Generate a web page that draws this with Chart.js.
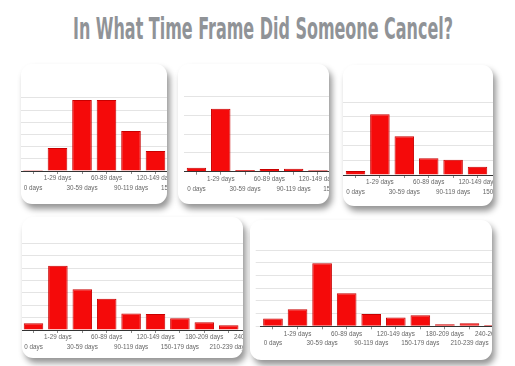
<!DOCTYPE html>
<html><head><meta charset="utf-8">
<script src="https://cdn.jsdelivr.net/npm/chart.js@4.4.1/dist/chart.umd.min.js"></script>
<style>
html,body{margin:0;padding:0;background:#fff;width:515px;height:366px;overflow:hidden;position:relative;}
#tt{position:absolute;top:14px;left:0;white-space:nowrap;font-family:"Liberation Sans Narrow","DejaVu Sans Condensed","Liberation Sans",sans-serif;font-weight:bold;font-size:30px;line-height:30px;color:#909397;transform-origin:0 0;}
.card{position:absolute;background:#fff;border-radius:11px;overflow:hidden;box-shadow:3px 5px 6px rgba(0,0,0,0.42);}
.card canvas{position:absolute;}
</style></head>
<body>
<span id="tt">In What Time Frame Did Someone Cancel?</span>
<script>
// ---- data ----
const categories = ["0 days","1-29 days","30-59 days","60-89 days","90-119 days","120-149 days","150-179 days","180-209 days","210-239 days","240-269 days"];
const panel1Values = [0.4, 9.4, 29.1, 29.1, 16.4, 8.2, null, null, null, null];
const panel2Values = [5.3, 83.8, 2.3, 3.6, 4.0, 2.0, null, null, null, null];
const panel3Values = [2.7, 41.6, 26.5, 11.4, 10.5, 5.7, null, null, null, null];
const panel4Values = [2.7, 25.9, 16.4, 12.6, 6.7, 6.5, 4.7, 3.1, 1.9, null];
const panel5Values = [6.1, 13.4, 49.6, 26.0, 9.7, 6.9, 8.7, 1.6, 2.4, 1.0];
const panelYMax  = [30, 100, 50, 35, 60];
const panelYStep = [5, 25, 10, 5, 10];

// ---- layout (page coordinates) ----
const layoutBoxes = [
  {l:21,  t:64,  w:146, h:140, plotLeft:20.75, catW:24.5,  base:171,   stepPx:12.2, yTick:0},
  {l:178, t:64,  w:151, h:140, plotLeft:184.3, catW:24.3,  base:171.7, stepPx:18.8, yTick:0},
  {l:343, t:65,  w:150, h:141, plotLeft:343.3, catW:24.4,  base:175,   stepPx:14.6, yTick:0},
  {l:22,  t:217, w:221, h:141, plotLeft:21.3,  catW:24.4,  base:330,   stepPx:12.4, yTick:0},
  {l:250, t:220, w:242, h:140, plotLeft:260.7, catW:24.56, base:326.3, stepPx:12.7, yTick:5}
];
const allValues = [panel1Values, panel2Values, panel3Values, panel4Values, panel5Values];

// title fit
const tt = document.getElementById('tt');
const tw = tt.getBoundingClientRect().width;
const sx = 380 / tw;
tt.style.transform = 'scaleX(' + sx + ')';
tt.style.left = (263 - 190) + 'px';

const AXIS_H = 26;
layoutBoxes.forEach((b, i) => {
  const card = document.createElement('div');
  card.className = 'card';
  card.style.left = b.l + 'px'; card.style.top = b.t + 'px';
  card.style.width = b.w + 'px'; card.style.height = b.h + 'px';
  document.body.appendChild(card);
  const cv = document.createElement('canvas');
  const relLeft = b.plotLeft - b.yTick - b.l;
  const cssLeft = Math.floor(relLeft);
  const padL = relLeft - cssLeft;
  const plotW = categories.length * b.catW;
  const W = Math.ceil(padL + b.yTick + plotW + 30);
  const padR = W - padL - b.yTick - plotW;
  const nSteps = panelYMax[i] / panelYStep[i];
  const baseRel = b.base - b.t;
  const padT = baseRel - nSteps * b.stepPx;
  const H = Math.ceil(baseRel + AXIS_H);
  const padB = H - AXIS_H - baseRel;
  cv.width = W; cv.height = H;
  cv.style.width = W + 'px'; cv.style.height = H + 'px';
  cv.style.left = cssLeft + 'px'; cv.style.top = '0px';
  card.appendChild(cv);
  new Chart(cv, {
    type: 'bar',
    data: { labels: categories, datasets: [{
      data: allValues[i],
      backgroundColor: '#f50a0a', borderColor: '#c80000', borderWidth: 1,
      barPercentage: 0.8, categoryPercentage: 1.0
    }]},
    options: {
      responsive: false, animation: false, devicePixelRatio: 1,
      layout: { padding: { left: padL, right: padR, top: padT, bottom: padB } },
      plugins: { legend: { display: false }, tooltip: { enabled: false }, title: { display: false } },
      scales: {
        x: {
          offset: true,
          grid: { display: true, drawOnChartArea: false, drawTicks: true, tickLength: 3, color: '#8a8a8a', offset: false },
          border: { display: true, color: '#333', width: 1 },
          ticks: {
            autoSkip: false, maxRotation: 0, minRotation: 0, padding: 0, color: '#666',
            font: { family: '"Liberation Sans", Arial, sans-serif', size: 6.3, lineHeight: 1.5 },
            callback: function(v, idx) { const l = this.getLabelForValue(v); return idx % 2 === 0 ? ['', l] : [l, '']; }
          },
          afterFit: s => { s.height = AXIS_H; s.paddingLeft = 0; s.paddingRight = 0; }
        },
        y: {
          min: 0, max: panelYMax[i],
          ticks: { display: false, stepSize: panelYStep[i] },
          grid: { color: '#e4e4e4', drawTicks: b.yTick > 0, tickLength: b.yTick },
          border: { display: false },
          afterFit: s => { s.width = b.yTick; s.paddingTop = 0; s.paddingBottom = 0; }
        }
      }
    }
  });
});
</script>
</body></html>
